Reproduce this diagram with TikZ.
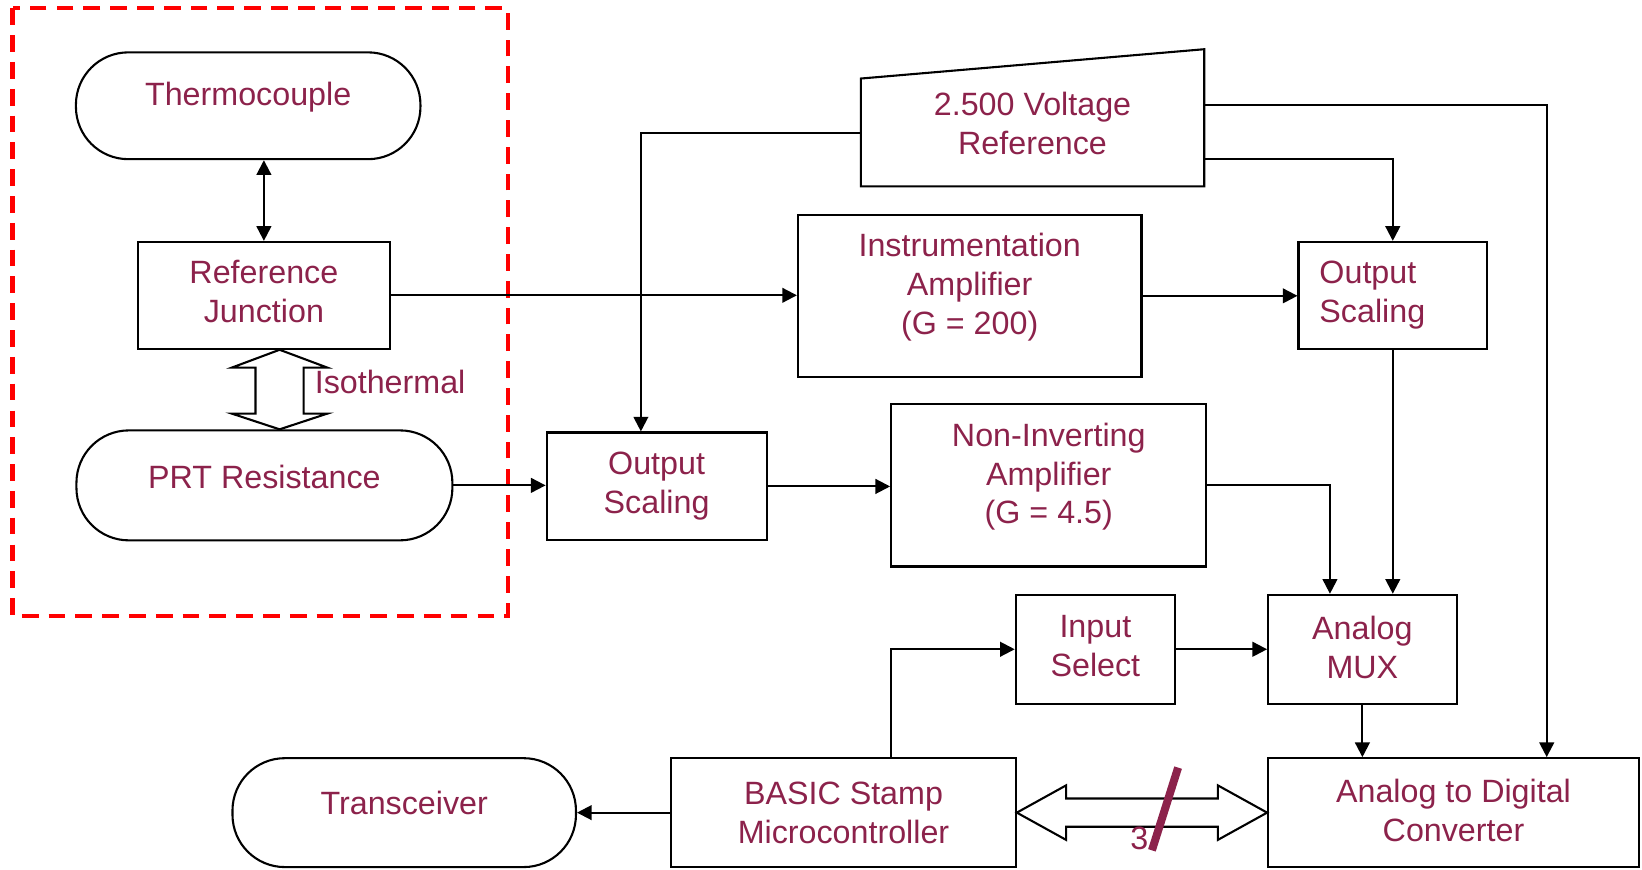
\documentclass[tikz,border=0pt]{standalone}
\usepackage{fontspec}
\setmainfont{Liberation Sans}
\usetikzlibrary{arrows.meta,calc}
\definecolor{txtred}{RGB}{140,34,75}

\begin{document}
\begin{tikzpicture}[x=0.5pt,y=-0.5pt]
    \tikzstyle{block}=[draw,line width=1pt,rectangle,align=center,text=txtred,inner sep=2pt,
      font=\fontsize{15.4}{18.5}\selectfont]
    \tikzstyle{term}=[block,rounded corners=25pt]
    \tikzstyle{arr}=[line width=1pt,-{Triangle[length=7pt,width=7pt]}]
    \tikzstyle{arrboth}=[line width=1pt,{Triangle[length=7pt,width=7pt]}-{Triangle[length=7pt,width=7pt]}]
    \tikzstyle{hollow}=[draw,line width=1pt,fill=white,line join=miter]
    \useasboundingbox (0,0) rectangle (1568,830);
    % sensor end
    \draw[red,line width=2pt,dash pattern=on 8pt off 4.8pt] (12,8) rectangle (485,588);
    \node[term,minimum width=164.5pt,minimum height=51pt,text depth=11pt] (thermo) at (237,101) {Thermocouple};
    \node[block,minimum width=120pt,minimum height=51pt,text depth=4pt] (refj) at (252,282) {Reference\\Junction};
    \node[term,minimum width=179.5pt,minimum height=52.5pt,text depth=8pt] (prt) at (252.5,463.5) {PRT Resistance};
    \node[text=txtred,font=\fontsize{15.4}{18.5}\selectfont] (iso) at (372.5,365) {Isothermal};
    % voltage reference
    \draw[line width=1pt] (822,75) -- (1150,47) -- (1150,178) -- (822,178) -- cycle;
    \node[text=txtred,align=center,font=\fontsize{15.4}{18.5}\selectfont] (vref) at (986,118) {2.500 Voltage\\Reference};
    \coordinate (vrefW) at (822,127);
    \coordinate (vrefE1) at (1150,100);
    \coordinate (vrefE2) at (1150,152);
    % signal chain
    \node[block,minimum width=164pt,minimum height=77.5pt,text depth=11.3pt] (inamp) at (926,282.5) {Instrumentation\\Amplifier\\(G = 200)};
    \node[block,minimum width=90pt,minimum height=51pt,align=left,text width=70pt,inner xsep=10pt] (scaleR) at (1330,282) {Output\\Scaling};
    \node[block,minimum width=105pt,minimum height=51.5pt] (scaleL) at (627,464.5) {Output\\Scaling};
    \node[block,minimum width=150.5pt,minimum height=77.5pt,text depth=11.3pt] (niamp) at (1001.5,463.5) {Non-Inverting\\Amplifier\\(G = 4.5)};
    \node[block,minimum width=90pt,minimum height=52pt,text depth=2pt] (mux) at (1301,620) {Analog\\MUX};
    \node[block,minimum width=76pt,minimum height=52pt,text depth=3pt] (insel) at (1046,620) {Input\\Select};
    \node[block,minimum width=177pt,minimum height=52pt,text depth=2pt] (adc) at (1388,776) {Analog to Digital\\Converter};
    \node[block,minimum width=164.5pt,minimum height=52pt] (stamp) at (805.5,776) {BASIC Stamp\\Microcontroller};
    \node[term,minimum width=164pt,minimum height=52pt,text depth=9pt] (radio) at (386,776) {Transceiver};
    % connectors
    \draw[arrboth] (refj.north) -- (refj.north |- thermo.south);
    \draw[arr] (refj.east) -- (refj.east -| inamp.west);
    \draw[arr] (vrefW) -| ([xshift=-7.5pt]scaleL.north);
    \draw[arr] (vrefE1) -| ([xshift=44.5pt]adc.north);
    \draw[arr] (vrefE2) -| (scaleR.north);
    \draw[arr] (inamp.east) -- (inamp.east -| scaleR.west);
    \draw[arr] (prt.east) -- (prt.east -| scaleL.west);
    \draw[arr] (scaleL.east) -- (scaleL.east -| niamp.west);
    \draw[arr] (niamp.east) -| ([xshift=-15.5pt]mux.north);
    \draw[arr] (scaleR.south) -- (scaleR.south |- mux.north);
    \draw[arr] (insel.east) -- (insel.east -| mux.west);
    \draw[arr] (mux.south) -- (mux.south |- adc.north);
    \draw[arr] ([xshift=22.75pt]stamp.north) |- (insel.west);
    \draw[arr] (stamp.west) -- (radio.east);
    % isothermal link
    \coordinate (isoT) at ([xshift=7.5pt]refj.south);
    \coordinate (isoB) at (isoT |- prt.north);
    \draw[hollow] (isoT) -- ($(isoT)+(22.75pt,-8.5pt)$) -- ($(isoT)+(11.5pt,-8.5pt)$)
      -- ($(isoB)+(11.5pt,7.5pt)$) -- ($(isoB)+(22.75pt,7.5pt)$) -- (isoB)
      -- ($(isoB)+(-22.75pt,7.5pt)$) -- ($(isoB)+(-11.5pt,7.5pt)$)
      -- ($(isoT)+(-11.5pt,-8.5pt)$) -- ($(isoT)+(-22.75pt,-8.5pt)$) -- cycle;
    % bus to converter
    \coordinate (busA) at (stamp.east);
    \coordinate (busB) at (adc.west);
    \draw[hollow] (busA) -- ($(busA)+(23.5pt,13pt)$) -- ($(busA)+(23.5pt,6.75pt)$)
      -- ($(busB)+(-23.5pt,6.75pt)$) -- ($(busB)+(-23.5pt,13pt)$) -- (busB)
      -- ($(busB)+(-23.5pt,-13pt)$) -- ($(busB)+(-23.5pt,-6.75pt)$)
      -- ($(busA)+(23.5pt,-6.75pt)$) -- ($(busA)+(23.5pt,-13pt)$) -- cycle;
    \draw[txtred,line width=3.8pt] (1125,733) -- (1100,812);
    \node[text=txtred,font=\fontsize{15.4}{18.5}\selectfont] (buswidth) at (1088,801) {3};
\end{tikzpicture}
\end{document}
